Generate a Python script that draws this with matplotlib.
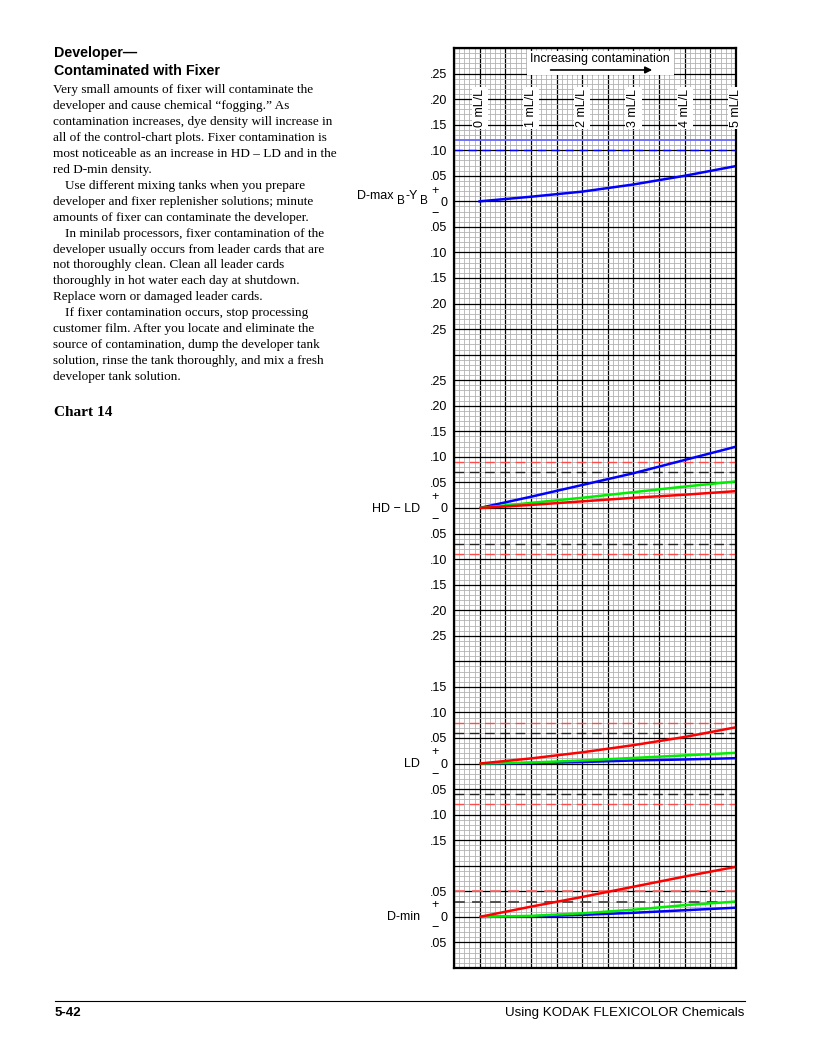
import matplotlib
matplotlib.use("Agg")
import matplotlib.pyplot as plt
from matplotlib.patches import Rectangle
import numpy as np

# contamination levels (mL/L)
ml = [0, 1, 2, 3, 4, 5]

# D-max B - Y B
dmax_blue = [0, 0.009, 0.019, 0.033, 0.050, 0.069]
# HD - LD
hdld_blue = [0, 0.022, 0.045, 0.068, 0.094, 0.120]
hdld_green = [0, 0.010, 0.020, 0.031, 0.042, 0.052]
hdld_red = [0, 0.006, 0.013, 0.020, 0.026, 0.033]
# LD
ld_blue = [0, 0.001, 0.003, 0.006, 0.008, 0.0105]
ld_green = [0, 0.002, 0.006, 0.011, 0.016, 0.021]
ld_red = [0, 0.010, 0.022, 0.036, 0.052, 0.071]
# D-min
dmin_blue = [0, 0.001, 0.004, 0.008, 0.013, 0.018]
dmin_green = [0, 0.002, 0.007, 0.014, 0.023, 0.030]
dmin_red = [0, 0.020, 0.039, 0.059, 0.079, 0.098]

# panel zero positions on the shared grid, and tick label range
panel_names = ["D-max", "HD - LD", "LD", "D-min"]
panel_offsets = [1.50, 0.90, 0.40, 0.10]
panel_label_max = [0.25, 0.25, 0.15, 0.05]

# control limits
dmax_limit_dash = 0.10
dmax_limit_solid = 0.12
hdld_limits = [0.07, 0.09]   # black, red
ld_limits = [0.06, 0.08]
dmin_limits = [0.03, 0.05]

W, H = 816, 1056
fig = plt.figure(figsize=(W / 100, H / 100), dpi=100)
SANS = ["Liberation Sans", "DejaVu Sans"]
SERIF = ["Liberation Serif", "DejaVu Serif"]


def fx(x):
    return x / W


def fy(y):
    return 1 - y / H


ax = fig.add_axes([fx(454), fy(968), 282 / W, 920 / H])
ax.set_xlim(-0.5, 5.0)
ax.set_ylim(0, 1.8)

# grid paper
ax.set_xticks(np.arange(-0.5, 5.01, 0.5))
ax.set_xticks(np.arange(-0.5, 5.01, 0.1), minor=True)
ymaj = np.round(np.arange(0, 1.8001, 0.05), 3)
ax.set_yticks(ymaj)
ax.set_yticks(np.arange(0, 1.8001, 0.01), minor=True)
ax.grid(which="minor", color="#b2b2b2", lw=0.6)
ax.grid(which="major", color="black", lw=0.9)
ax.set_axisbelow(True)
ax.tick_params(which="both", length=0)
ax.set_xticklabels([])

labels = []
for p in ymaj:
    lab = ""
    for off, mx in zip(panel_offsets, panel_label_max):
        v = round(p - off, 3)
        if abs(v) <= mx + 1e-6:
            lab = "0" if abs(v) < 1e-6 else ".%02d" % round(abs(v) * 100)
    labels.append(lab)
ax.set_yticklabels(labels, family=SANS, fontsize=9)
ax.tick_params(axis="y", pad=5)
for s in ax.spines.values():
    s.set_linewidth(1.6)

# control limit lines
o = panel_offsets
ax.axhline(o[0] + dmax_limit_solid, color="#6a6aff", lw=1.3)
ax.axhline(o[0] + dmax_limit_dash, color="#0000ff", lw=1.0, dashes=(6, 4))
for lim, c in zip(hdld_limits, ["#222222", "#ff4a4a"]):
    ax.axhline(o[1] + lim, color=c, lw=1.0, dashes=(7, 4))
    ax.axhline(o[1] - lim, color=c, lw=1.0, dashes=(7, 4))
for lim, c in zip(ld_limits, ["#222222", "#ff4a4a"]):
    ax.axhline(o[2] + lim, color=c, lw=1.0, dashes=(7, 4))
    ax.axhline(o[2] - lim, color=c, lw=1.0, dashes=(7, 4))
for lim, c in zip(dmin_limits, ["#444444", "#ff6a6a"]):
    ax.axhline(o[3] + lim, color=c, lw=1.3, dashes=(6, 4))

# curves
lw = 1.8
ax.plot(ml, o[0] + np.array(dmax_blue), color="#0000ff", lw=lw)
for arrs, off in [((hdld_blue, hdld_green, hdld_red), o[1]),
                  ((ld_blue, ld_green, ld_red), o[2]),
                  ((dmin_blue, dmin_green, dmin_red), o[3])]:
    for a, c in zip(arrs, ["#0000ff", "#00ee00", "#ff0000"]):
        ax.plot(ml, off + np.array(a), color=c, lw=lw, solid_capstyle="butt")

# mL/L labels
for m in ml:
    ax.text(m, 1.682, "%d mL/L" % m, rotation=90, ha="center", va="center",
            family=SANS, fontsize=9,
            bbox=dict(fc="white", ec="none", pad=1.5))

# increasing contamination box
ax.add_patch(Rectangle((0.92, 1.748), 2.87, 0.047, fc="white", ec="none", zorder=3))
ax.text(2.35, 1.778, "Increasing contamination", ha="center", va="center",
        family=SANS, fontsize=9, zorder=4)
ax.annotate("", xy=(3.42, 1.757), xytext=(1.33, 1.757),
            arrowprops=dict(arrowstyle="-|>", color="black", lw=1.2,
                            mutation_scale=10), zorder=4)

# panel labels and +/- signs
zero_px = [203, 509, 764, 917]
for zp in zero_px:
    fig.text(fx(435.5), fy(zp - 12), "+", ha="center", va="center", family=SANS, fontsize=9)
    fig.text(fx(435.5), fy(zp + 11), "\u2212", ha="center", va="center", family=SANS, fontsize=9)

fig.text(fx(394), fy(196), "D-max", ha="right", va="center", family=SANS, fontsize=9)
fig.text(fx(397), fy(201), "B", ha="left", va="center", family=SANS, fontsize=8.5)
fig.text(fx(406), fy(196), "-Y", ha="left", va="center", family=SANS, fontsize=9)
fig.text(fx(420), fy(201), "B", ha="left", va="center", family=SANS, fontsize=8.5)
fig.text(fx(420), fy(509), "HD \u2212 LD", ha="right", va="center", family=SANS, fontsize=9)
fig.text(fx(420), fy(764), "LD", ha="right", va="center", family=SANS, fontsize=9)
fig.text(fx(420), fy(917), "D-min", ha="right", va="center", family=SANS, fontsize=9)

# left column text
fig.text(fx(54), fy(53), "Developer\u2014", ha="left", va="center", family=SANS,
         fontsize=10.3, weight="bold")
fig.text(fx(54), fy(71), "Contaminated with Fixer", ha="left", va="center", family=SANS,
         fontsize=10.3, weight="bold")

body = [
    ("Very small amounts of fixer will contaminate the", 0),
    ("developer and cause chemical \u201cfogging.\u201d As", 0),
    ("contamination increases, dye density will increase in", 0),
    ("all of the control-chart plots. Fixer contamination is", 0),
    ("most noticeable as an increase in HD \u2013 LD and in the", 0),
    ("red D-min density.", 0),
    ("Use different mixing tanks when you prepare", 1),
    ("developer and fixer replenisher solutions; minute", 0),
    ("amounts of fixer can contaminate the developer.", 0),
    ("In minilab processors, fixer contamination of the", 1),
    ("developer usually occurs from leader cards that are", 0),
    ("not thoroughly clean. Clean all leader cards", 0),
    ("thoroughly in hot water each day at shutdown.", 0),
    ("Replace worn or damaged leader cards.", 0),
    ("If fixer contamination occurs, stop processing", 1),
    ("customer film. After you locate and eliminate the", 0),
    ("source of contamination, dump the developer tank", 0),
    ("solution, rinse the tank thoroughly, and mix a fresh", 0),
    ("developer tank solution.", 0),
]
for i, (line, ind) in enumerate(body):
    fig.text(fx(53 + 12 * ind), fy(90 + 15.95 * i), line, ha="left", va="center",
             family=SERIF, fontsize=9.5)

fig.text(fx(54), fy(413), "Chart 14", ha="left", va="center", family=SERIF,
         fontsize=11, weight="bold")

# footer
fig.add_artist(plt.Line2D([fx(55), fx(745)], [fy(1001), fy(1001)], color="black", lw=0.8))
fig.text(fx(55), fy(1013), "5-42", ha="left", va="center", family=SANS, fontsize=9.5,
         weight="bold")
fig.text(fx(744), fy(1013), "Using KODAK FLEXICOLOR Chemicals", ha="right", va="center",
         family=SANS, fontsize=9.6)

fig.savefig("out.png", dpi=100)
